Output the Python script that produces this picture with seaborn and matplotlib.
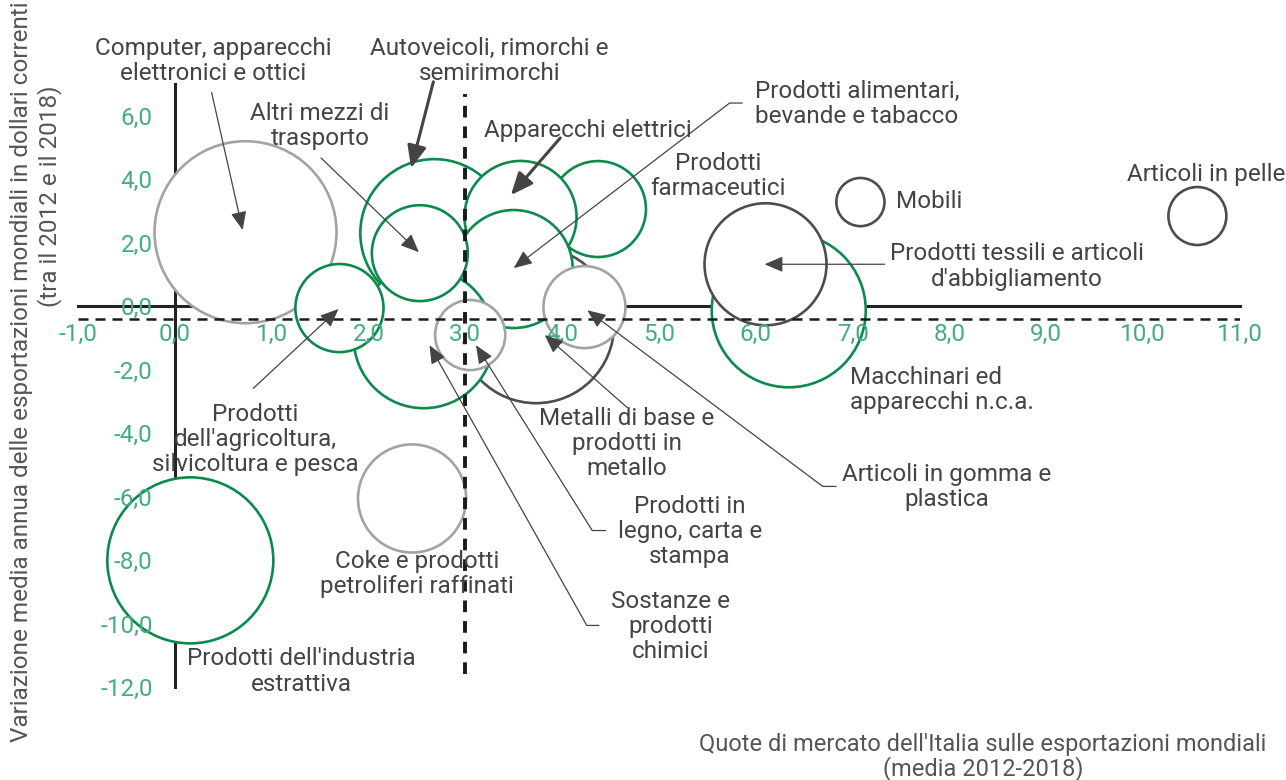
import matplotlib
matplotlib.use("Agg")
import matplotlib.pyplot as plt
import seaborn as sns
import pandas as pd

# Settori (ordine = ordine di disegno delle bolle)
settori = ["Computer, apparecchi elettronici e ottici", "Prodotti dell'industria estrattiva",
           "Metalli di base e prodotti in metallo", "Macchinari ed apparecchi n.c.a.",
           "Autoveicoli, rimorchi e semirimorchi", "Prodotti farmaceutici",
           "Apparecchi elettrici", "Prodotti alimentari, bevande e tabacco",
           "Sostanze e prodotti chimici", "Prodotti tessili e articoli d'abbigliamento",
           "Coke e prodotti petroliferi raffinati", "Altri mezzi di trasporto",
           "Prodotti dell'agricoltura, silvicoltura e pesca", "Articoli in gomma e plastica",
           "Prodotti in legno, carta e stampa", "Articoli in pelle", "Mobili"]
quota = [0.73, 0.16, 3.73, 6.34, 2.68, 4.37, 3.57, 3.50, 2.57, 6.10, 2.45, 2.53, 1.70, 4.23, 3.05, 10.56, 7.08]
variazione = [2.33, -8.01, -0.60, -0.13, 2.30, 3.06, 2.81, 1.17, -1.01, 1.32, -6.06, 1.67, -0.06, -0.03, -0.91, 2.84, 3.28]
dimensione = [82.8, 68.9, 60.8, 59.3, 54.8, 23.0, 31.4, 34.8, 49.0, 37.2, 29.2, 23.0, 19.4, 16.8, 12.3, 8.4, 5.8]
gruppo = ["chiaro", "verde", "scuro", "verde", "verde", "verde", "verde", "verde", "verde",
          "scuro", "chiaro", "verde", "verde", "chiaro", "chiaro", "scuro", "scuro"]

media_quota = 3.0
media_variazione = -0.4

xticks = [-1, 0, 1, 2, 3, 4, 5, 6, 7, 8, 9, 10, 11]
yticks = [-12, -10, -8, -6, -4, -2, 0, 2, 4, 6]

palette = {"verde": "#0b8a4b", "scuro": "#4d4d4d", "chiaro": "#a3a3a3"}
testo = "#444444"
verde_tick = "#43ad80"

df = pd.DataFrame({"settore": settori, "quota": quota, "variazione": variazione,
                   "dimensione": dimensione, "gruppo": gruppo})

sns.set_style("white")
plt.rcParams["font.family"] = ["Roboto", "DejaVu Sans"]

fig = plt.figure(figsize=(12.86, 7.8), dpi=100)
ax = fig.add_axes([78 / 1286, 93 / 780, 1162 / 1286, 603 / 780])

sns.scatterplot(data=df, x="quota", y="variazione", hue="gruppo", palette=palette,
                size="dimensione", sizes=(0, 20736), size_norm=(0, 100),
                legend=False, ax=ax, zorder=2, clip_on=False, linewidth=1.9)
pc = ax.collections[0]
pc.set_edgecolors(pc.get_facecolors())
pc.set_facecolor("white")

ax.set_xlim(-1, 11)
ax.set_ylim(-12, 7)
for s in ["top", "right"]:
    ax.spines[s].set_visible(False)
for s in ["left", "bottom"]:
    ax.spines[s].set_position(("data", 0))
    ax.spines[s].set_linewidth(2.2)
    ax.spines[s].set_color("#222222")
    ax.spines[s].set_zorder(0.5)

ax.set_xticks(xticks)
ax.set_xticklabels([f"{v:.1f}".replace(".", ",") for v in xticks])
ax.set_yticks(yticks)
ax.set_yticklabels([f"{v:.1f}".replace(".", ",") for v in yticks])
ax.tick_params(axis="x", length=0, pad=12, labelsize=17.5, labelcolor=verde_tick)
ax.tick_params(axis="y", length=6, width=1.5, color="#222222", direction="out",
               pad=10, labelsize=17.5, labelcolor=verde_tick)
ax.xaxis.set_zorder(3)
ax.yaxis.set_zorder(3)
ax.set_xlabel("")
ax.set_ylabel("")
ax.grid(False)

# linee delle medie
ax.vlines(media_quota, -11.6, 6.7, colors="#1a1a1a", linewidth=2.8,
          linestyle=(0, (3, 2.3)), zorder=4)
ax.hlines(media_variazione, -1, 11, colors="#1a1a1a", linewidth=1.8,
          linestyle=(0, (4, 2.8)), zorder=4)

# etichette
etichette = [
    ("Computer, apparecchi\nelettronici e ottici", 0.40, 7.73, "center"),
    ("Autoveicoli, rimorchi e\nsemirimorchi", 3.25, 7.73, "center"),
    ("Altri mezzi di\ntrasporto", 1.50, 5.68, "center"),
    ("Apparecchi elettrici", 4.27, 5.52, "center"),
    ("Prodotti alimentari,\nbevande e tabacco", 5.99, 6.37, "left"),
    ("Prodotti\nfarmaceutici", 5.61, 4.09, "center"),
    ("Mobili", 7.45, 3.31, "left"),
    ("Articoli in pelle", 10.65, 4.16, "center"),
    ("Prodotti tessili e articoli\nd'abbigliamento", 8.70, 1.25, "center"),
    ("Macchinari ed\napparecchi n.c.a.", 6.97, -2.65, "left"),
    ("Articoli in gomma e\nplastica", 7.97, -5.69, "center"),
    ("Metalli di base e\nprodotti in\nmetallo", 4.67, -4.32, "center"),
    ("Prodotti in\nlegno, carta e\nstampa", 5.32, -7.10, "center"),
    ("Sostanze e\nprodotti\nchimici", 5.12, -10.09, "center"),
    ("Prodotti\ndell'agricoltura,\nsilvicoltura e pesca", 0.83, -4.20, "center"),
    ("Coke e prodotti\npetroliferi raffinati", 2.50, -8.45, "center"),
    ("Prodotti dell'industria\nestrattiva", 1.31, -11.51, "center"),
]
for t, x, y, ha in etichette:
    ax.text(x, y, t, ha=ha, va="center", multialignment=ha,
            fontsize=17.5, color=testo, linespacing=1.12, zorder=6)

# frecce dirette
frecce = [
    ((0.38, 6.73), (0.70, 2.40), False),
    ((2.67, 7.07), (2.44, 4.35), True),
    ((1.51, 4.67), (2.52, 1.70), False),
    ((3.98, 5.30), (3.47, 3.50), True),
    ((7.33, 1.32), (6.09, 1.32), False),
    ((4.67, -3.19), (3.82, -0.91), False),
    ((0.81, -2.59), (1.69, -0.09), False),
]
for start, tip, spessa in frecce:
    ax.annotate("", xy=tip, xytext=start, zorder=5,
                arrowprops=dict(arrowstyle="-|>,head_length=0.75,head_width=0.32",
                                mutation_scale=18 if spessa else 15,
                                lw=2.2 if spessa else 0.9, color="#444444",
                                shrinkA=0, shrinkB=0))

# frecce con piccolo tratto orizzontale
frecce_gomito = [
    ((5.86, 6.40), (3.50, 1.20), 37.4),
    ((6.83, -5.68), (4.26, -0.13), -36.8),
    ((4.45, -7.07), (3.11, -1.23), -57.9),
    ((4.38, -10.06), (2.63, -1.23), -60.7),
]
for start, tip, ang in frecce_gomito:
    ax.annotate("", xy=tip, xytext=start, zorder=5,
                arrowprops=dict(arrowstyle="-|>,head_length=0.75,head_width=0.32",
                                mutation_scale=15, lw=0.9, color="#444444",
                                shrinkA=0, shrinkB=0,
                                connectionstyle=f"angle,angleA=0,angleB={ang},rad=0"))

# titoli degli assi
fig.text(22 / 1286, 1 - 372 / 780,
         "Variazione media annua delle esportazioni mondiali in dollari correnti",
         rotation=90, ha="center", va="center", fontsize=17.5, color="#555555")
fig.text(50 / 1286, 1 - 196 / 780, "(tra il 2012 e il 2018)",
         rotation=90, ha="center", va="center", fontsize=17.5, color="#555555")
fig.text(983 / 1286, 1 - 757 / 780,
         "Quote di mercato dell'Italia sulle esportazioni mondiali\n(media 2012-2018)",
         ha="center", va="center", fontsize=17, color="#555555", linespacing=1.05)

fig.savefig("out.png", dpi=100)
